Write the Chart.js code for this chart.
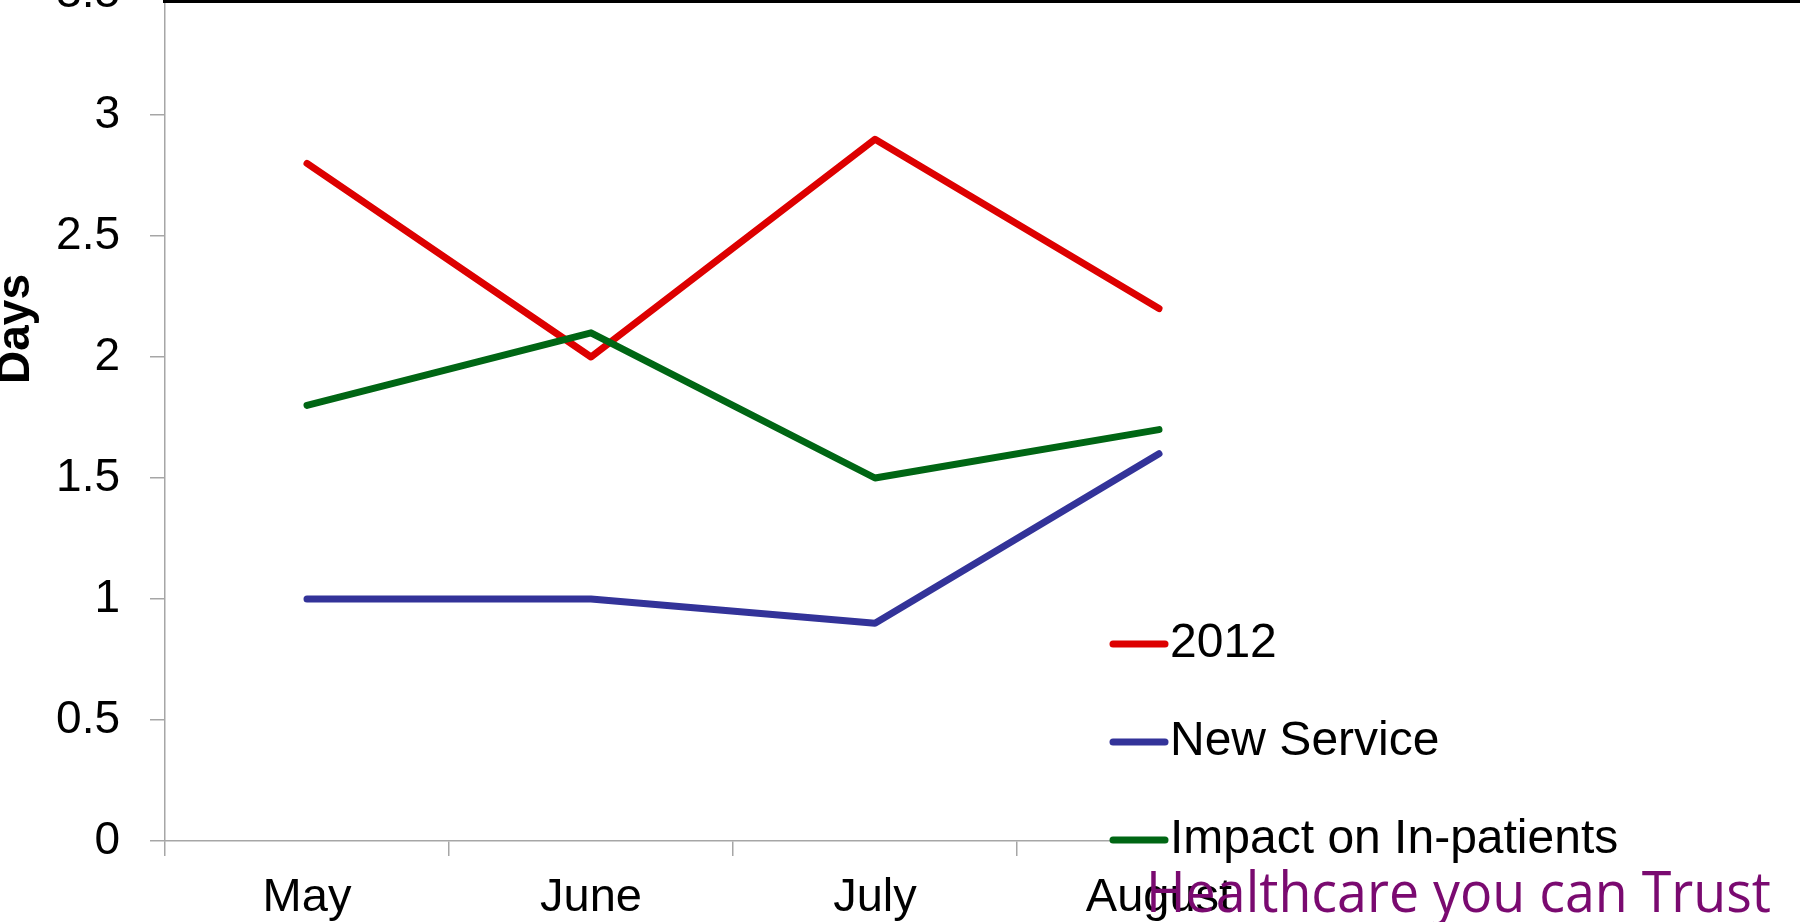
<!DOCTYPE html>
<html>
<head>
<meta charset="utf-8">
<script src="https://cdn.jsdelivr.net/npm/chart.js@4.4.0/dist/chart.umd.min.js"></script>
<style>
  html, body { margin: 0; padding: 0; background: #fff; overflow: hidden; }
  #wrap { position: absolute; left: 0; top: -80px; width: 1814px; height: 1002px; }
</style>
</head>
<body>
<div id="wrap"><canvas id="myChart" width="1814" height="1002"></canvas></div>
<script>
// data
var months = ['May', 'June', 'July', 'August'];
var series2012 = [2.8, 2.0, 2.9, 2.2];
var newService = [1.0, 1.0, 0.9, 1.6];
var impactInPatients = [1.8, 2.1, 1.5, 1.7];
var seriesNames = ['2012', 'New Service', 'Impact on In-patients'];

var Red = '#dd0000', Blue = '#333399', Green = '#006614';
var AxisGrey = '#a6a6a6';
var FONT = '"Liberation Sans", Arial, sans-serif';
var SHIFT = 80; // canvas is pulled up by this much, so the top of the plot is cut off

// legend, axis title, footer text and top rule drawn by hand
var extras = {
    id: 'extras',
    afterDraw: function (chart) {
        var c = chart.ctx;
        c.save();

        // thin black rule at the very top of the page
        c.fillStyle = '#000';
        c.fillRect(163, SHIFT, 1637, 3);

        // "Days" axis title
        c.save();
        c.translate(16, SHIFT + 329);
        c.rotate(-Math.PI / 2);
        c.font = 'bold 46px ' + FONT;
        c.fillStyle = '#000';
        c.textAlign = 'center';
        c.textBaseline = 'middle';
        c.fillText('Days', 0, 0);
        c.restore();

        // legend
        var colors = [Red, Blue, Green];
        var rows = [644, 742, 840];
        c.fillStyle = '#fff';
        c.fillRect(1168, SHIFT + 815, 560, 50);
        for (var i = 0; i < seriesNames.length; i++) {
            var y = SHIFT + rows[i];
            c.strokeStyle = colors[i];
            c.lineWidth = 7;
            c.lineCap = 'round';
            c.beginPath();
            c.moveTo(1113, y);
            c.lineTo(1165, y);
            c.stroke();
            c.fillStyle = '#000';
            c.font = '48px ' + FONT;
            c.textAlign = 'left';
            c.textBaseline = 'middle';
            c.fillText(seriesNames[i], 1170, y);
        }

        // footer strap line
        var txt = 'Healthcare you can Trust';
        c.font = '56px "Open Sans", sans-serif';
        var w = c.measureText(txt).width;
        c.save();
        c.translate(1146, SHIFT + 912);
        c.scale(625 / w, 1);
        c.fillStyle = '#7a0a70';
        c.textAlign = 'left';
        c.textBaseline = 'alphabetic';
        c.fillText(txt, 0, 0);
        c.restore();

        c.restore();
    }
};

var ctx = document.getElementById('myChart').getContext('2d');
var chart = new Chart(ctx, {
    type: 'line',
    data: {
        labels: months,
        datasets: [{
            label: seriesNames[0],
            data: series2012,
            borderColor: Red,
            backgroundColor: Red,
            order: 2
        }, {
            label: seriesNames[1],
            data: newService,
            borderColor: Blue,
            backgroundColor: Blue,
            order: 1
        }, {
            label: seriesNames[2],
            data: impactInPatients,
            borderColor: Green,
            backgroundColor: Green,
            order: 0
        }]
    },
    options: {
        responsive: false,
        animation: false,
        events: [],
        layout: { padding: { left: 0, right: 513, top: 74, bottom: 0 } },
        elements: {
            line: { borderWidth: 7, tension: 0, borderCapStyle: 'round', borderJoinStyle: 'round' },
            point: { radius: 0 }
        },
        plugins: {
            legend: { display: false },
            tooltip: { enabled: false }
        },
        scales: {
            x: {
                offset: true,
                grid: { offset: true, drawOnChartArea: false, tickLength: 15, color: AxisGrey, lineWidth: 1.5 },
                border: { color: AxisGrey, width: 1.5 },
                ticks: { color: '#000', font: { family: FONT, size: 47 }, padding: 14, maxRotation: 0 },
                afterFit: function (scale) { scale.height = 81; }
            },
            y: {
                min: 0,
                max: 3.5,
                grid: { drawOnChartArea: false, tickLength: 15, color: AxisGrey, lineWidth: 1.5 },
                border: { color: AxisGrey, width: 1.5 },
                ticks: {
                    stepSize: 0.5,
                    color: '#000',
                    font: { family: FONT, size: 46 },
                    padding: 30,
                    callback: function (v) { return String(v); }
                },
                afterFit: function (scale) { scale.width = 165; }
            }
        }
    },
    plugins: [extras]
});
</script>
</body>
</html>
